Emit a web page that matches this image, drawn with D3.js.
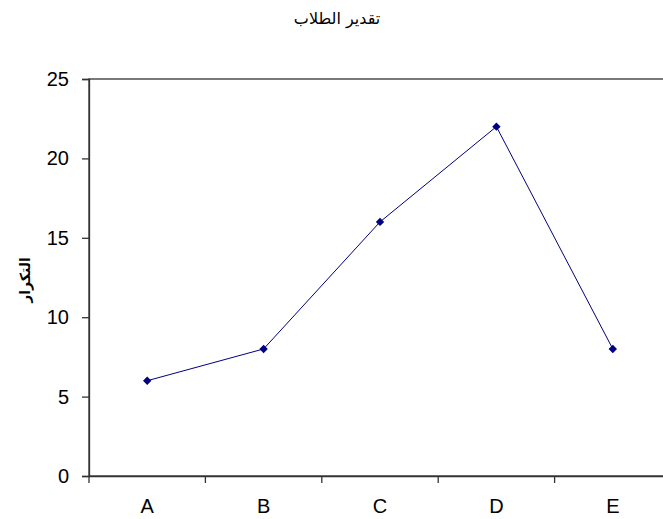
<!DOCTYPE html>
<html><head><meta charset="utf-8">
<script src="https://cdn.jsdelivr.net/npm/d3@7"></script>
<style>body{margin:0;background:#fff}svg{display:block}</style>
</head><body>
<script>
const categories = ["A","B","C","D","E"];
const values = [6, 8, 16, 22, 8];
const yTicks = [0,5,10,15,20,25];
const title = "تقدير الطلاب";
const yLabel = "التكرار";

const W = 663, H = 519;
const m = {left: 89, top: 79, right: -8, bottom: 43};
const svg = d3.select("body").append("svg").attr("width", W).attr("height", H);
const x = d3.scaleBand().domain(categories).range([m.left, W - m.right]);
const y = d3.scaleLinear().domain([0, 25]).range([H - m.bottom, m.top]);

svg.append("rect").attr("x", m.left).attr("y", m.top)
  .attr("width", (W - m.right) - m.left).attr("height", (H - m.bottom) - m.top)
  .attr("fill", "none").attr("stroke", "#333").attr("stroke-width", 1.3);

const yAxis = svg.append("g").attr("transform", `translate(${m.left},0)`)
  .call(d3.axisLeft(y).tickValues(yTicks).tickSize(7).tickPadding(13));
const xAxis = svg.append("g").attr("transform", `translate(0,${H - m.bottom})`)
  .call(d3.axisBottom(x).tickSize(0).tickPadding(23));
[yAxis, xAxis].forEach(g => {
  g.selectAll("text").attr("font-family", "Liberation Sans, Arial, sans-serif").attr("font-size", 20).attr("fill", "#000");
  g.selectAll("line").attr("stroke", "#333").attr("stroke-width", 1.3);
  g.select(".domain").attr("stroke", "#333").attr("stroke-width", 1.3);
});
// category boundary ticks
const bounds = categories.map(c => x(c)).concat([x(categories[4]) + x.bandwidth()]);
svg.append("g").selectAll("line").data(bounds).join("line")
  .attr("x1", d => d).attr("x2", d => d)
  .attr("y1", H - m.bottom).attr("y2", H - m.bottom + 7)
  .attr("stroke", "#333").attr("stroke-width", 1.3);

const line = d3.line().x((d, i) => x(categories[i]) + x.bandwidth() / 2).y(d => y(d));
svg.append("path").datum(values).attr("d", line)
  .attr("fill", "none").attr("stroke", "#000080").attr("stroke-width", 1);
svg.append("g").selectAll("path").data(values).join("path")
  .attr("d", d3.symbol().type(d3.symbolDiamond2).size(45))
  .attr("transform", (d, i) => `translate(${x(categories[i]) + x.bandwidth() / 2},${y(d)})`)
  .attr("fill", "#000080");

svg.append("text").attr("x", 337).attr("y", 24).attr("text-anchor", "middle")
  .attr("font-family", "DejaVu Sans, sans-serif").attr("font-size", 16).attr("direction", "rtl")
  .text(title);
svg.append("text").attr("transform", "translate(30,280) rotate(-90)").attr("text-anchor", "middle")
  .attr("font-family", "DejaVu Sans, sans-serif").attr("font-size", 14).attr("font-weight", "bold")
  .attr("direction", "rtl").text(yLabel);
</script>
</body></html>
